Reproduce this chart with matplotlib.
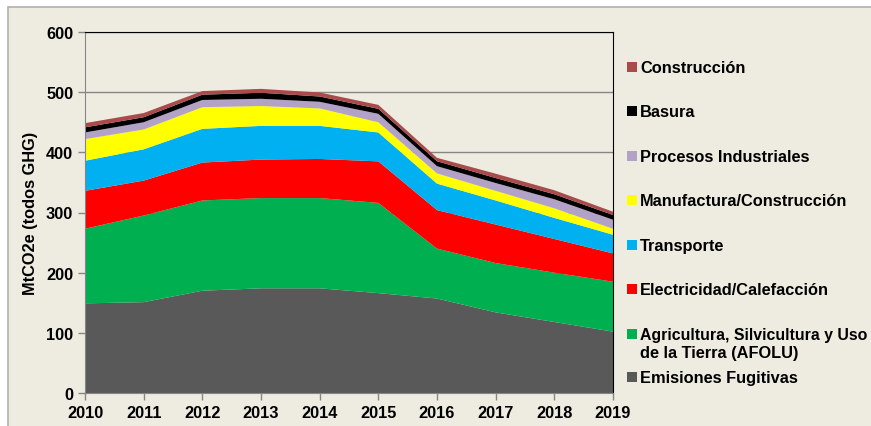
import matplotlib
matplotlib.use("Agg")
import matplotlib.pyplot as plt
from matplotlib.patches import Rectangle

plt.rcParams["font.family"] = ["Liberation Sans", "DejaVu Sans"]
plt.rcParams["font.weight"] = "bold"

years = [2010, 2011, 2012, 2013, 2014, 2015, 2016, 2017, 2018, 2019]

# stacked from the bottom up
fugitivas = [149, 151, 170, 174, 174, 166, 157, 134, 118, 102]
afolu = [124, 144, 150, 150, 150, 150, 83, 82, 82, 83]
electricidad = [63, 58, 63, 64, 65, 69, 64, 64, 56, 47]
transporte = [50, 52, 56, 56, 55, 48, 44, 40, 35, 31]
manufactura = [36, 33, 36, 33, 29, 17, 17, 16, 16, 10]
procesos = [11, 12, 12, 12, 11, 14, 12, 13, 15, 15]
basura = [8.5, 8.3, 8.8, 10, 8.8, 8.3, 8.2, 8.3, 8.3, 7.8]
construccion = [7, 7, 6, 6.5, 6.7, 6.6, 5.7, 7.2, 6.7, 5.5]

series = [fugitivas, afolu, electricidad, transporte, manufactura, procesos, basura, construccion]
labels = [
    "Emisiones Fugitivas",
    "Agricultura, Silvicultura y Uso\nde la Tierra (AFOLU)",
    "Electricidad/Calefacción",
    "Transporte",
    "Manufactura/Construcción",
    "Procesos Industriales",
    "Basura",
    "Construcción",
]
colors = ["#595959", "#00B050", "#FF0000", "#00B0F0", "#FFFF00", "#B3A2C7", "#000000", "#AA4B4B"]

BG = "#EEECE1"
GRID = "#868686"
W, H = 871, 427
FS = 11.8

fig = plt.figure(figsize=(W / 100, H / 100), dpi=100, facecolor="white")
fig.patches.append(Rectangle((8 / W, -0.02), 1.05, 1 - 8 / H + 0.02, transform=fig.transFigure,
                             facecolor=BG, edgecolor="#B0B0B0", linewidth=1.2, zorder=-10))

ax = fig.add_axes([85 / W, 33 / H, (613 - 85) / W, (394 - 33) / H])
ax.set_facecolor(BG)
ax.stackplot(years, *series, colors=colors, linewidth=0, zorder=3)

ax.set_xlim(2010, 2019)
ax.set_ylim(0, 600)
ax.set_xticks(years)
ax.set_yticks(range(0, 601, 100))
ax.yaxis.grid(True, color=GRID, linewidth=1)
ax.set_axisbelow(True)

for side in ["top", "right"]:
    ax.spines[side].set_color("black")
    ax.spines[side].set_zorder(5)
for side in ["left", "bottom"]:
    ax.spines[side].set_color(GRID)
    ax.spines[side].set_zorder(5)
ax.tick_params(axis="both", direction="out", length=5, color=GRID, labelsize=FS, width=1)
ax.tick_params(axis="x", pad=4)
for lab in ax.get_xticklabels() + ax.get_yticklabels():
    lab.set_fontweight("bold")

ax.set_ylabel("MtCO2e (todos GHG)", fontsize=FS, fontweight="bold", labelpad=6)

# legend drawn by hand, top entry first
renderer = fig.canvas.get_renderer()
baselines = [72.7 + i * 44.5 for i in range(7)] + [383.3]
for i, (lab, col) in enumerate(zip(labels[::-1], colors[::-1])):
    yb = baselines[i]
    fig.patches.append(Rectangle((627 / W, 1 - yb / H), 10 / W, 10 / H, transform=fig.transFigure,
                                 facecolor=col, edgecolor="none"))
    for k, line in enumerate(lab.split("\n")):
        t = fig.text(640 / W, 1 - (yb + k * 18.3) / H, line, fontsize=FS, fontweight="bold",
                     va="baseline", ha="left")
        # shrink a line that would run past the right edge
        width = t.get_window_extent(renderer).width
        if 640 + width > W - 4:
            t.set_fontsize(FS * (W - 4 - 640) / width)

fig.savefig("out.png", dpi=100, facecolor=fig.get_facecolor())
